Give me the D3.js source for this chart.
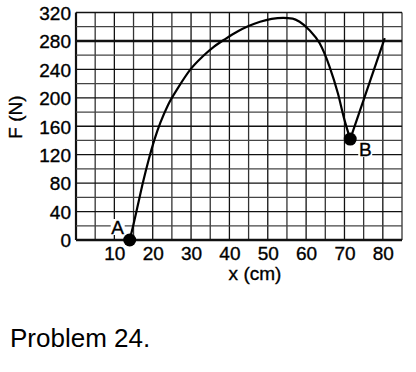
<!DOCTYPE html>
<html>
<head>
<meta charset="utf-8">
<script src="https://cdn.jsdelivr.net/npm/d3@7"></script>
<style>
  body { margin: 0; background: #fff; }
  svg { display: block; font-family: 'Liberation Sans', Arial, sans-serif; }
</style>
</head>
<body>
<script>
// values
const xTicks = [10, 20, 30, 40, 50, 60, 70, 80];
const yTicks = [0, 40, 80, 120, 160, 200, 240, 280, 320];
// curve from A up over the hump and down to B
const curveX = [14, 15, 16, 17.5, 19, 20.5, 22, 24, 26.6, 30, 33, 36, 39, 42, 45, 48, 51, 54, 56.5, 58.3, 60.9, 63.5, 66.1, 68.3, 70, 71.5];
const curveF = [0, 22, 46, 82, 114, 142, 165, 190, 214, 241, 258, 272, 283, 293, 301, 307, 311, 312.5, 311.5, 307, 295, 277, 244, 206, 169, 142];
// straight piece from B to the end
const lineX = [71.5, 80.5];
const lineF = [142, 284];
const pointNames = ['A', 'B'];
const pointX = [14, 71.5];
const pointF = [0, 142];

let dim = { width: 416, height: 372 };
let svg = d3.select('body').append('svg').attr('width', dim.width).attr('height', dim.height);

let x = d3.scaleLinear().domain([0, 85]).range([76, 402]);
let y = d3.scaleLinear().domain([0, 320]).range([240, 12.5]);

// grid
let grid = svg.append('g');
grid.selectAll('line.v')
  .data(d3.range(0, 86, 5))
  .enter().append('line')
  .attr('x1', d => x(d)).attr('x2', d => x(d))
  .attr('y1', y(0)).attr('y2', y(320))
  .attr('stroke', d => d % 10 === 0 ? '#111' : '#333')
  .attr('stroke-width', d => d === 0 ? 2.2 : 1.3);
grid.selectAll('line.h')
  .data(d3.range(0, 321, 20))
  .enter().append('line')
  .attr('y1', d => y(d)).attr('y2', d => y(d))
  .attr('x1', x(0)).attr('x2', x(85))
  .attr('stroke', d => d % 40 === 0 ? '#111' : '#444')
  .attr('stroke-width', d => (d === 0 || d === 280) ? 2.4 : 1.3);

// axes (labels only)
let axisX = d3.axisBottom(x).tickValues(xTicks).tickSize(0).tickPadding(0);
let axisY = d3.axisLeft(y).tickValues(yTicks).tickSize(0).tickPadding(0);

let gx = svg.append('g').attr('transform', 'translate(0, 243)').call(axisX);
let gy = svg.append('g').attr('transform', 'translate(71, 0)').call(axisY);
[gx, gy].forEach(g => {
  g.select('.domain').remove();
  g.selectAll('text').attr('font-size', 19).attr('font-family', "'Liberation Sans', Arial, sans-serif")
    .attr('fill', '#000').attr('stroke', '#000').attr('stroke-width', 0.35);
});
gx.selectAll('text').attr('dy', '0.9em');
gy.selectAll('text').attr('dy', '0.36em');

svg.append('text').attr('x', 255).attr('y', 280).attr('text-anchor', 'middle')
  .attr('font-size', 19).attr('stroke', '#000').attr('stroke-width', 0.35).text('x (cm)');
svg.append('text').attr('transform', 'translate(22, 117) rotate(-90)').attr('text-anchor', 'middle')
  .attr('font-size', 19).attr('stroke', '#000').attr('stroke-width', 0.35).text('F (N)');

// curve
let curveData = curveX.map((d, i) => [d, curveF[i]]);
let lineData = lineX.map((d, i) => [d, lineF[i]]);
svg.append('path').datum(curveData)
  .attr('d', d3.line().x(d => x(d[0])).y(d => y(d[1])).curve(d3.curveMonotoneX))
  .attr('fill', 'none').attr('stroke', '#000').attr('stroke-width', 2.2);
svg.append('path').datum(lineData)
  .attr('d', d3.line().x(d => x(d[0])).y(d => y(d[1])))
  .attr('fill', 'none').attr('stroke', '#000').attr('stroke-width', 2.2);

// labelled points
let pts = pointNames.map((n, i) => ({ name: n, x: pointX[i], f: pointF[i] }));
let labelOff = { A: [-12, -13], B: [15, 10] };
pts.forEach(p => {
  let lx = x(p.x) + labelOff[p.name][0];
  let ly = y(p.f) + labelOff[p.name][1];
  svg.append('rect').attr('x', lx - 7).attr('y', ly - 8).attr('width', 14).attr('height', 16).attr('fill', '#fff');
  svg.append('text').attr('x', lx).attr('y', ly).attr('dy', '0.36em').attr('text-anchor', 'middle')
    .attr('font-size', 19).attr('stroke', '#000').attr('stroke-width', 0.35).text(p.name);
});
svg.selectAll('circle')
  .data(pts)
  .enter().append('circle')
  .attr('cx', d => x(d.x)).attr('cy', d => y(d.f)).attr('r', 6.5).attr('fill', '#000');

svg.append('text').attr('x', 10).attr('y', 347).attr('font-size', 26).text('Problem 24.');
</script>
</body>
</html>
